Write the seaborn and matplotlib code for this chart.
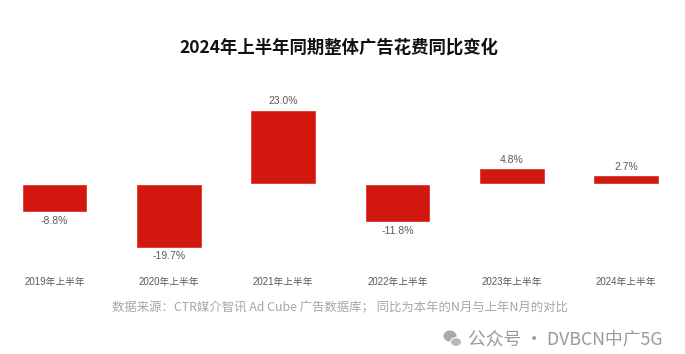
import matplotlib
matplotlib.use("Agg")
import matplotlib.pyplot as plt
import seaborn as sns
import pandas as pd
from matplotlib.patches import Ellipse

periods = ["2019年上半年", "2020年上半年", "2021年上半年", "2022年上半年", "2023年上半年", "2024年上半年"]
changes = [-8.8, -19.7, 23.0, -11.8, 4.8, 2.7]
title = "2024年上半年同期整体广告花费同比变化"
source = "数据来源：CTR媒介智讯 Ad Cube 广告数据库； 同比为本年的N月与上年N月的对比"
mark = "公众号 · DVBCN中广5G"

sns.set_theme(style="white")
plt.rcParams["font.family"] = ["Noto Sans CJK SC", "DejaVu Sans"]
latin_first = ["Liberation Sans", "Noto Sans CJK SC", "DejaVu Sans"]

W, H = 685, 354
fig = plt.figure(figsize=(W / 100, H / 100), dpi=100, facecolor="white")
top_px, bottom_px = 90, 262
ax = fig.add_axes([0, 1 - bottom_px / H, 1, (bottom_px - top_px) / H])

df = pd.DataFrame({"period": periods, "change": changes})
sns.barplot(data=df, x="period", y="change", order=periods, color="#D2180E",
            saturation=1, width=0.575, ax=ax)

step = 114.3
ax.set_xlim(-54.5 / step, (W - 54.5) / step)
scale = 3.235
base_px = 184.0
ax.set_ylim((base_px - bottom_px) / scale, (base_px - top_px) / scale)

for s in ax.spines.values():
    s.set_visible(False)
ax.set_xlabel("")
ax.set_ylabel("")
ax.set_yticks([])
ax.tick_params(axis="x", length=0, pad=11, labelsize=7, labelcolor="#595959")
for lab in ax.get_xticklabels():
    lab.set_family(latin_first)

for c in ax.containers:
    ax.bar_label(c, labels=[f"{v:.1f}%" for v in changes], padding=2.5,
                 fontsize=7.5, color="#595959", family=latin_first)

fig.text(339 / W, 1 - 48 / H, title, ha="center", va="center", fontsize=12.5,
         fontweight="bold", color="#111111")
fig.text(340 / W, 1 - 308 / H, source, ha="center", va="center", fontsize=8.9, color="#A6A6A6")
fig.text(663 / W, 1 - 339 / H, mark, ha="right", va="center", fontsize=12.8, color="#9A9A9A")

overlay = fig.add_axes([0, 0, 1, 1], facecolor="none")
overlay.set_xlim(0, W)
overlay.set_ylim(H, 0)
overlay.axis("off")
overlay.add_patch(Ellipse((450, 336), 13, 11, color="#A8A8A8", lw=0))
overlay.add_patch(Ellipse((456, 342), 11, 9, color="#B8B8B8", ec="white", lw=0.8))

fig.savefig("out.png", dpi=100, facecolor="white")
